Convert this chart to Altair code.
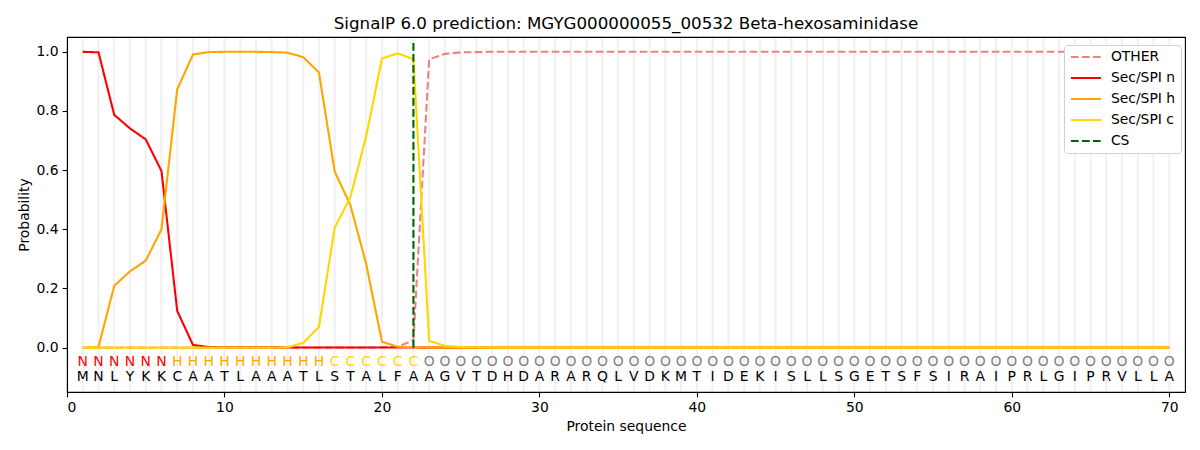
import altair as alt
import pandas as pd

title_text = "SignalP 6.0 prediction: MGYG000000055_00532 Beta-hexosaminidase"

sequence = "MNLYKKCAATLAAATLSTALFAAGVTDHDARARQLVDKMTIDEKISLLSGETSFSIRAIPRLGIPRVLLA"
regions = "NNNNNNHHHHHHHHHHCCCCCCOOOOOOOOOOOOOOOOOOOOOOOOOOOOOOOOOOOOOOOOOOOOOOOO"

other = [0.0, 0.0, 0.0, 0.0, 0.0, 0.0, 0.0, 0.0, 0.0, 0.0,
         0.0, 0.0, 0.0, 0.0, 0.0, 0.0, 0.0, 0.0, 0.0, 0.001,
         0.003, 0.025, 0.975, 0.993, 0.998, 0.999, 1.0, 1.0, 1.0, 1.0,
         1.0, 1.0, 1.0, 1.0, 1.0, 1.0, 1.0, 1.0, 1.0, 1.0,
         1.0, 1.0, 1.0, 1.0, 1.0, 1.0, 1.0, 1.0, 1.0, 1.0,
         1.0, 1.0, 1.0, 1.0, 1.0, 1.0, 1.0, 1.0, 1.0, 1.0,
         1.0, 1.0, 1.0, 1.0, 1.0, 1.0, 1.0, 1.0, 1.0, 1.0]

sp_n = [1.0, 0.998, 0.787, 0.741, 0.704, 0.597, 0.124, 0.009, 0.002, 0.001,
        0.001, 0.001, 0.001, 0.0005, 0.0005, 0.0005, 0.0005, 0.0005, 0.0005, 0.0005,
        0.0005, 0.0003, 0.0, 0.0, 0.0, 0.0, 0.0, 0.0, 0.0, 0.0,
        0.0, 0.0, 0.0, 0.0, 0.0, 0.0, 0.0, 0.0, 0.0, 0.0,
        0.0, 0.0, 0.0, 0.0, 0.0, 0.0, 0.0, 0.0, 0.0, 0.0,
        0.0, 0.0, 0.0, 0.0, 0.0, 0.0, 0.0, 0.0, 0.0, 0.0,
        0.0, 0.0, 0.0, 0.0, 0.0, 0.0, 0.0, 0.0, 0.0, 0.0]

sp_h = [0.0, 0.002, 0.209, 0.258, 0.294, 0.400, 0.873, 0.991, 0.999, 1.0,
        1.0, 1.0, 0.999, 0.997, 0.982, 0.930, 0.595, 0.481, 0.283, 0.020,
        0.003, 0.001, 0.0, 0.0, 0.0, 0.0, 0.0, 0.0, 0.0, 0.0,
        0.0, 0.0, 0.0, 0.0, 0.0, 0.0, 0.0, 0.0, 0.0, 0.0,
        0.0, 0.0, 0.0, 0.0, 0.0, 0.0, 0.0, 0.0, 0.0, 0.0,
        0.0, 0.0, 0.0, 0.0, 0.0, 0.0, 0.0, 0.0, 0.0, 0.0,
        0.0, 0.0, 0.0, 0.0, 0.0, 0.0, 0.0, 0.0, 0.0, 0.0]

sp_c = [0.0, 0.0, 0.0, 0.0, 0.0, 0.0, 0.0, 0.0, 0.0, 0.0,
        0.0, 0.0, 0.0, 0.001, 0.016, 0.070, 0.405, 0.509, 0.715, 0.977,
        0.995, 0.975, 0.023, 0.006, 0.002, 0.001, 0.0, 0.0, 0.0, 0.0,
        0.0, 0.0, 0.0, 0.0, 0.0, 0.0, 0.0, 0.0, 0.0, 0.0,
        0.0, 0.0, 0.0, 0.0, 0.0, 0.0, 0.0, 0.0, 0.0, 0.0,
        0.0, 0.0, 0.0, 0.0, 0.0, 0.0, 0.0, 0.0, 0.0, 0.0,
        0.0, 0.0, 0.0, 0.0, 0.0, 0.0, 0.0, 0.0, 0.0, 0.0]

cs_position = 22
cs_top = 1.04

series_names = ["OTHER", "Sec/SPI n", "Sec/SPI h", "Sec/SPI c", "CS"]
series_colors = ["#f08080", "#ff0000", "#ffa500", "#ffd700", "#006400"]
series_dashes = [[7.7, 3.3], [1, 0], [1, 0], [1, 0], [7.7, 3.3]]
region_colors = {"N": "#ff0000", "H": "#ffa500", "C": "#ffd700", "O": "#808080"}

FONT = "DejaVu Sans"
W, H = 1118, 355

positions = list(range(1, len(sequence) + 1))

rows = []
for name, vals in [("OTHER", other), ("Sec/SPI n", sp_n), ("Sec/SPI h", sp_h), ("Sec/SPI c", sp_c)]:
    for p, v in zip(positions, vals):
        rows.append({"pos": p, "prob": v, "series": name})
df = pd.DataFrame(rows)

seq_df = pd.DataFrame({
    "pos": positions,
    "aa": list(sequence),
    "region": list(regions),
    "rcolor": [region_colors[r] for r in regions],
})
cs_df = pd.DataFrame({"pos": [cs_position], "y0": [0.0], "y1": [cs_top], "series": ["CS"]})

xscale = alt.Scale(domain=[0, 71], nice=False, zero=False)
yscale = alt.Scale(domain=[-0.15, 1.05], nice=False, zero=False)
color_scale = alt.Scale(domain=series_names, range=series_colors)
dash_scale = alt.Scale(domain=series_names, range=series_dashes)

legend = alt.Legend(
    title=None, orient="none", legendX=997, legendY=8,
    symbolType="M-3,0H3", symbolSize=100, symbolStrokeWidth=2, symbolOffset=10,
    labelFont=FONT, labelFontSize=13.9, labelColor="black", labelOffset=18,
    rowPadding=6, padding=5, fillColor="white", strokeColor="#d0d0d0",
    cornerRadius=3,
)

xenc = alt.X("pos:Q", scale=xscale,
             axis=alt.Axis(values=[0, 10, 20, 30, 40, 50, 60, 70], title="Protein sequence", format="d"))
yenc_axis = alt.Axis(values=[0.0, 0.2, 0.4, 0.6, 0.8, 1.0], format=".1f", title="Probability")

grid = alt.Chart(seq_df).mark_rule(color="#f0f0f0", strokeWidth=2).encode(
    x=alt.X("pos:Q", scale=xscale), y=alt.value(1), y2=alt.value(H - 1)
)

layers = [grid]
for name in ["OTHER", "Sec/SPI n", "Sec/SPI h", "Sec/SPI c"]:
    layers.append(
        alt.Chart(df).transform_filter(alt.datum.series == name).mark_line(strokeWidth=2.1).encode(
            x=xenc,
            y=alt.Y("prob:Q", scale=yscale, axis=yenc_axis),
            color=alt.Color("series:N", scale=color_scale, legend=legend),
            strokeDash=alt.StrokeDash("series:N", scale=dash_scale, legend=legend),
        )
    )

cs_rule = alt.Chart(cs_df).mark_rule(strokeWidth=2.1).encode(
    x=alt.X("pos:Q", scale=xscale),
    y=alt.Y("y0:Q", scale=yscale),
    y2="y1:Q",
    color=alt.Color("series:N", scale=color_scale, legend=legend),
    strokeDash=alt.StrokeDash("series:N", scale=dash_scale, legend=legend),
)
layers.append(cs_rule)

region_text = alt.Chart(seq_df).mark_text(font=FONT, fontSize=13.9, baseline="middle", align="center").encode(
    x=alt.X("pos:Q", scale=xscale),
    y=alt.datum(-0.05, scale=yscale),
    text="region:N",
    color=alt.Color("rcolor:N", scale=None),
)
aa_text = alt.Chart(seq_df).mark_text(font=FONT, fontSize=13.9, baseline="middle", align="center", color="black").encode(
    x=alt.X("pos:Q", scale=xscale),
    y=alt.datum(-0.10, scale=yscale),
    text="aa:N",
)
layers += [region_text, aa_text]

chart = alt.layer(*layers).properties(
    width=W, height=H,
    title=alt.TitleParams(title_text, font=FONT, fontSize=16.7, fontWeight="normal", color="black", offset=4),
    autosize=alt.AutoSizeParams(type="none"),
    padding={"left": 59, "top": 29, "right": 7, "bottom": 50},
).configure_view(stroke="black", strokeWidth=1.1).configure_axis(
    grid=False, labelFont=FONT, labelFontSize=13.9, labelColor="black",
    titleFont=FONT, titleFontSize=13.9, titleColor="black", titleFontWeight="normal",
    domainColor="black", tickColor="black", tickSize=4.9, labelPadding=4, titlePadding=5,
    domainWidth=1.1, tickWidth=1.1,
)

chart.save("out.html", embed_options={"renderer": "svg", "actions": False})
